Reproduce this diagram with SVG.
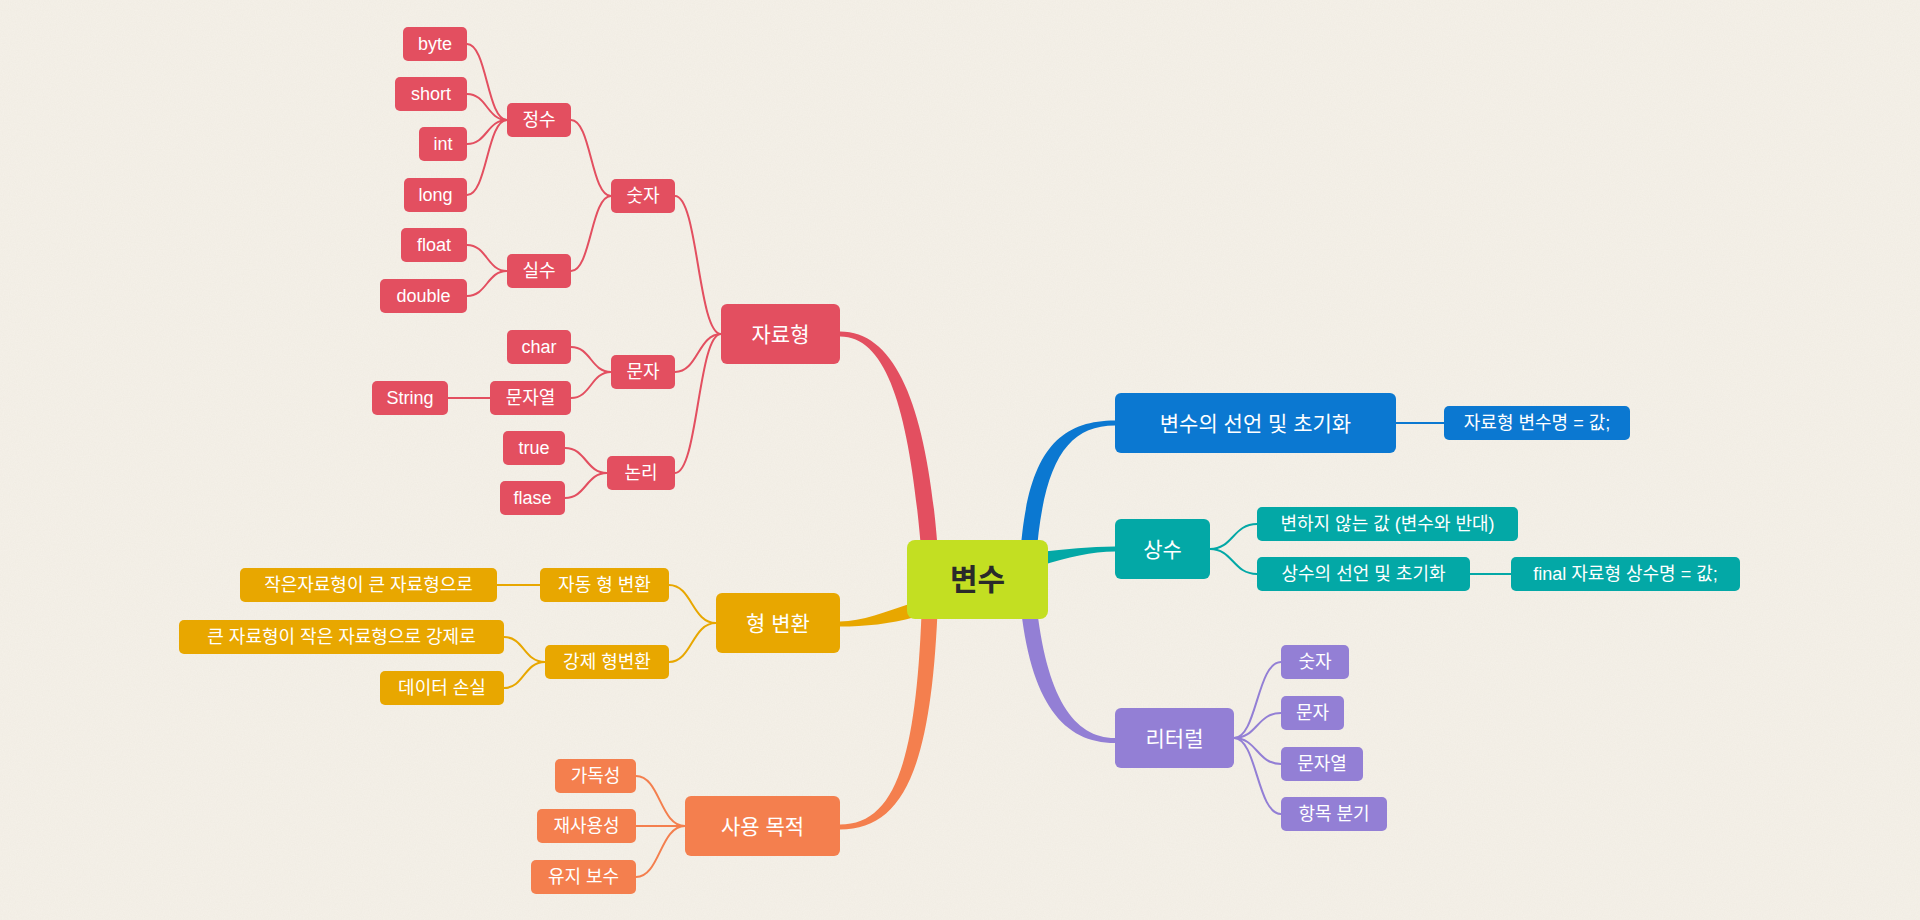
<svg xmlns="http://www.w3.org/2000/svg" width="1920" height="920" viewBox="0 0 1920 920">
<style>
text{font-family:"Liberation Sans","Noto Sans CJK KR",sans-serif;fill:#fff;text-anchor:middle;dominant-baseline:central}
.s{font-size:18px}
.l{font-size:21px}
.red rect{fill:#E34F60}
.blue rect{fill:#0B78D1}
.teal rect{fill:#03A8A6}
.pur rect{fill:#937FD5}
.yel rect{fill:#E8A700}
.org rect{fill:#F47F4E}
.c path{fill:none;stroke-width:2}
.cr{stroke:#E34F60}.cb{stroke:#0B78D1}.ct{stroke:#03A8A6}.cp{stroke:#937FD5}.cy{stroke:#E8A700}.co{stroke:#F47F4E}
.c path.br{stroke:none;fill:#E34F60}
.c path.bb{stroke:none;fill:#0B78D1}
.c path.bt{stroke:none;fill:#03A8A6}
.c path.bp{stroke:none;fill:#937FD5}
.c path.by{stroke:none;fill:#E8A700}
.c path.bo{stroke:none;fill:#F47F4E}
</style>
<defs>
<filter id="paper" x="0" y="0" width="100%" height="100%">
<feTurbulence type="fractalNoise" baseFrequency="0.85" numOctaves="3" seed="4"/>
<feColorMatrix values="0 0 0 0 0.5  0 0 0 0 0.45  0 0 0 0 0.35  0 0 0 0.09 0"/>
</filter>
</defs>
<rect width="1920" height="920" fill="#F5F1E9"/>
<rect width="1920" height="920" filter="url(#paper)"/>
<g id="connectors" class="c">
<path class="br" d="M840,331.5 C900,331.5 929,418 938.5,560 L922,560 C911,424 891,336.5 840,336.5 Z"/>
<path class="bb" d="M1020,560 C1026,456 1056,420.5 1115,420.5 L1115,425.5 C1066,425.5 1043,464 1036,560 Z"/>
<path class="bt" d="M1040,552 C1065,549 1090,546.5 1115,546.5 L1115,551.5 C1092,551.5 1068,557 1040,566 Z"/>
<path class="bp" d="M1020,600 C1030,704 1064,743 1115,743 L1115,738 C1074,738 1046,698 1036,600 Z"/>
<path class="by" d="M840,621.5 C862,621.5 885,612 915,602 L915,617 C890,624 865,626.5 840,626.5 Z"/>
<path class="bo" d="M938,600 C932,765 905,829.5 840,829.5 L840,824.5 C896,824.5 917,758 922,600 Z"/>
<path class="cr" d="M675,196 C698,196 698,334 721,334"/>
<path class="cr" d="M675,372 C698,372 698,334 721,334"/>
<path class="cr" d="M675,473 C698,473 698,334 721,334"/>
<path class="cr" d="M571,120 C591,120 591,196 611,196"/>
<path class="cr" d="M571,271 C591,271 591,196 611,196"/>
<path class="cr" d="M467,44 C487,44 487,120 507,120"/>
<path class="cr" d="M467,94 C487,94 487,120 507,120"/>
<path class="cr" d="M467,144 C487,144 487,120 507,120"/>
<path class="cr" d="M467,195 C487,195 487,120 507,120"/>
<path class="cr" d="M467,245 C487,245 487,271 507,271"/>
<path class="cr" d="M467,296 C487,296 487,271 507,271"/>
<path class="cr" d="M571,347 C591,347 591,372 611,372"/>
<path class="cr" d="M571,398 C591,398 591,372 611,372"/>
<path class="cr" d="M448,398 L490,398"/>
<path class="cr" d="M565,448 C586,448 586,473 607,473"/>
<path class="cr" d="M565,498 C586,498 586,473 607,473"/>
<path class="cy" d="M497,585 L540,585"/>
<path class="cy" d="M669,585 C692,585 692,623 716,623"/>
<path class="cy" d="M669,662 C692,662 692,623 716,623"/>
<path class="cy" d="M504,637 C524,637 524,662 545,662"/>
<path class="cy" d="M504,688 C524,688 524,662 545,662"/>
<path class="co" d="M636,776 C660,776 660,826 685,826"/>
<path class="co" d="M636,826 L685,826"/>
<path class="co" d="M636,877 C660,877 660,826 685,826"/>
<path class="cb" d="M1396,423 L1444,423"/>
<path class="ct" d="M1210,549 C1233,549 1233,524 1257,524"/>
<path class="ct" d="M1210,549 C1233,549 1233,574 1257,574"/>
<path class="ct" d="M1470,574 L1511,574"/>
<path class="cp" d="M1234,738 C1257,738 1257,662 1281,662"/>
<path class="cp" d="M1234,738 C1257,738 1257,713 1281,713"/>
<path class="cp" d="M1234,738 C1257,738 1257,764 1281,764"/>
<path class="cp" d="M1234,738 C1257,738 1257,814 1281,814"/>
</g>
<g id="root"><rect x="907" y="540" width="141" height="79" rx="8" fill="#C3DF22"/><text x="977.5" y="579" style="font-size:30px;font-weight:bold;fill:#2a2a2a">변수</text></g>
<g id="n-jaryo" class="red"><rect x="721" y="304" width="119" height="60" rx="6"/><text class="l" x="780.5" y="334">자료형</text></g>
<g id="n-num" class="red"><rect x="611" y="179" width="64" height="34" rx="5"/><text class="s" x="643" y="196">숫자</text></g>
<g id="n-int-group" class="red"><rect x="507" y="103" width="64" height="34" rx="5"/><text class="s" x="539" y="120">정수</text></g>
<g id="n-real" class="red"><rect x="507" y="254" width="64" height="34" rx="5"/><text class="s" x="539" y="271">실수</text></g>
<g id="n-byte" class="red"><rect x="403" y="27" width="64" height="34" rx="5"/><text class="s" x="435" y="44">byte</text></g>
<g id="n-short" class="red"><rect x="395" y="77" width="72" height="34" rx="5"/><text class="s" x="431" y="94">short</text></g>
<g id="n-int" class="red"><rect x="419" y="127" width="48" height="34" rx="5"/><text class="s" x="443" y="144">int</text></g>
<g id="n-long" class="red"><rect x="404" y="178" width="63" height="34" rx="5"/><text class="s" x="435.5" y="195">long</text></g>
<g id="n-float" class="red"><rect x="401" y="228" width="66" height="34" rx="5"/><text class="s" x="434" y="245">float</text></g>
<g id="n-double" class="red"><rect x="380" y="279" width="87" height="34" rx="5"/><text class="s" x="423.5" y="296">double</text></g>
<g id="n-char-group" class="red"><rect x="611" y="355" width="64" height="34" rx="5"/><text class="s" x="643" y="372">문자</text></g>
<g id="n-char" class="red"><rect x="507" y="330" width="64" height="34" rx="5"/><text class="s" x="539" y="347">char</text></g>
<g id="n-strk" class="red"><rect x="490" y="381" width="81" height="34" rx="5"/><text class="s" x="530.5" y="398">문자열</text></g>
<g id="n-string" class="red"><rect x="372" y="381" width="76" height="34" rx="5"/><text class="s" x="410" y="398">String</text></g>
<g id="n-logic" class="red"><rect x="607" y="456" width="68" height="34" rx="5"/><text class="s" x="641" y="473">논리</text></g>
<g id="n-true" class="red"><rect x="503" y="431" width="62" height="34" rx="5"/><text class="s" x="534" y="448">true</text></g>
<g id="n-flase" class="red"><rect x="500" y="481" width="65" height="34" rx="5"/><text class="s" x="532.5" y="498">flase</text></g>
<g id="n-conv" class="yel"><rect x="716" y="593" width="124" height="60" rx="6"/><text class="l" x="778" y="623">형 변환</text></g>
<g id="n-auto" class="yel"><rect x="540" y="568" width="129" height="34" rx="5"/><text class="s" x="604.5" y="585">자동 형 변환</text></g>
<g id="n-auto-d" class="yel"><rect x="240" y="568" width="257" height="34" rx="5"/><text class="s" x="368.5" y="585">작은자료형이 큰 자료형으로</text></g>
<g id="n-force" class="yel"><rect x="545" y="645" width="124" height="34" rx="5"/><text class="s" x="607" y="662">강제 형변환</text></g>
<g id="n-force-d" class="yel"><rect x="179" y="620" width="325" height="34" rx="5"/><text class="s" x="341.5" y="637">큰 자료형이 작은 자료형으로 강제로</text></g>
<g id="n-loss" class="yel"><rect x="380" y="671" width="124" height="34" rx="5"/><text class="s" x="442" y="688">데이터 손실</text></g>
<g id="n-purpose" class="org"><rect x="685" y="796" width="155" height="60" rx="6"/><text class="l" x="762.5" y="826">사용 목적</text></g>
<g id="n-read" class="org"><rect x="555" y="759" width="81" height="34" rx="5"/><text class="s" x="595.5" y="776">가독성</text></g>
<g id="n-reuse" class="org"><rect x="537" y="809" width="99" height="34" rx="5"/><text class="s" x="586.5" y="826">재사용성</text></g>
<g id="n-maint" class="org"><rect x="531" y="860" width="105" height="34" rx="5"/><text class="s" x="583.5" y="877">유지 보수</text></g>
<g id="n-decl" class="blue"><rect x="1115" y="393" width="281" height="60" rx="6"/><text class="l" x="1255.5" y="423">변수의 선언 및 초기화</text></g>
<g id="n-decl-d" class="blue"><rect x="1444" y="406" width="186" height="34" rx="5"/><text class="s" x="1537" y="423">자료형 변수명 = 값;</text></g>
<g id="n-const" class="teal"><rect x="1115" y="519" width="95" height="60" rx="6"/><text class="l" x="1162.5" y="549">상수</text></g>
<g id="n-const-a" class="teal"><rect x="1257" y="507" width="261" height="34" rx="5"/><text class="s" x="1387.5" y="524">변하지 않는 값 (변수와 반대)</text></g>
<g id="n-const-b" class="teal"><rect x="1257" y="557" width="213" height="34" rx="5"/><text class="s" x="1363.5" y="574">상수의 선언 및 초기화</text></g>
<g id="n-const-c" class="teal"><rect x="1511" y="557" width="229" height="34" rx="5"/><text class="s" x="1625.5" y="574">final 자료형 상수명 = 값;</text></g>
<g id="n-lit" class="pur"><rect x="1115" y="708" width="119" height="60" rx="6"/><text class="l" x="1174.5" y="738">리터럴</text></g>
<g id="n-lit-num" class="pur"><rect x="1281" y="645" width="68" height="34" rx="5"/><text class="s" x="1315" y="662">숫자</text></g>
<g id="n-lit-char" class="pur"><rect x="1281" y="696" width="63" height="34" rx="5"/><text class="s" x="1312.5" y="713">문자</text></g>
<g id="n-lit-str" class="pur"><rect x="1281" y="747" width="82" height="34" rx="5"/><text class="s" x="1322" y="764">문자열</text></g>
<g id="n-lit-br" class="pur"><rect x="1281" y="797" width="106" height="34" rx="5"/><text class="s" x="1334" y="814">항목 분기</text></g>
</svg>
